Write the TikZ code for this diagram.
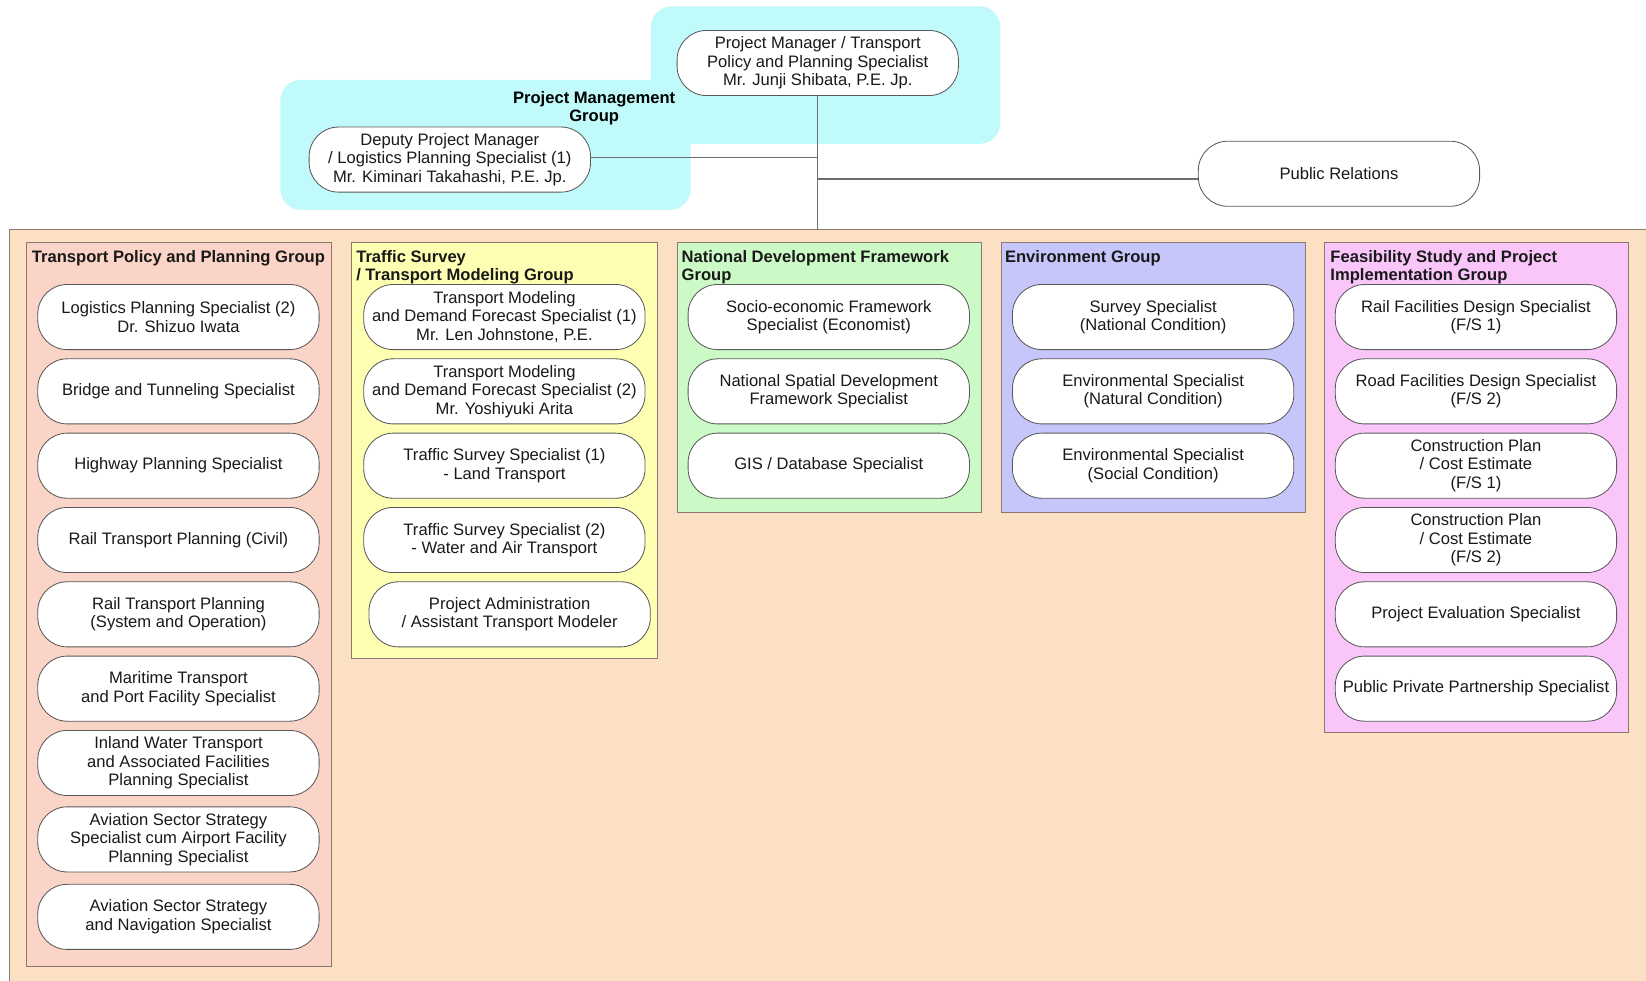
\documentclass[tikz,border=0pt]{standalone}
\usepackage{fontspec}
\setmainfont{Liberation Sans}
\usetikzlibrary{positioning}
\definecolor{pmcyan}{RGB}{192,250,250}
\definecolor{bandpeach}{RGB}{252,224,196}
\definecolor{grpsalmon}{RGB}{250,212,198}
\definecolor{grpyellow}{RGB}{255,255,180}
\definecolor{grpgreen}{RGB}{204,250,198}
\definecolor{grpblue}{RGB}{198,198,250}
\definecolor{grppink}{RGB}{250,198,250}
\definecolor{framegray}{RGB}{140,120,112}
\definecolor{linegray}{RGB}{110,110,110}

\begin{document}
\begin{tikzpicture}[x=0.5pt, y=-0.5pt,
    box/.style={draw=black!65, fill=white, rounded corners=14pt, minimum width=134pt,
                minimum height=31pt, inner sep=1pt, align=center,
                font=\fontsize{7.9}{8.8}\selectfont, text=black!90},
    grp/.style={draw=framegray, line width=0.5pt},
    ttl/.style={anchor=north west, inner sep=0pt, align=left,
                font=\fontsize{7.9}{8.6}\selectfont\bfseries, text=black!90},
    conn/.style={draw=linegray, line width=0.5pt},
    node distance=4pt
]
\useasboundingbox (0,0) rectangle (1568,934);
\clip (0,0) rectangle (1568,934);

% project management group
\fill[pmcyan, rounded corners=10pt] (620,6) rectangle (953,137);
\fill[pmcyan, rounded corners=10pt] (267,76) rectangle (658,200);
\node[box] (pm) at (779,60) {Project Manager / Transport\\Policy and Planning Specialist\\Mr. Junji Shibata, P.E. Jp.};
\node[box] (deputy) at (428.5,152) {Deputy Project Manager\\/ Logistics Planning Specialist (1)\\Mr. Kiminari Takahashi, P.E. Jp.};
\node[align=center, inner sep=0pt, font=\fontsize{7.9}{8.6}\selectfont\bfseries] (pmlbl) at (566,103) {Project Management\\Group};
\node[box] (pr) at (1275.5,165.5) {Public Relations};

% expert team
\draw[grp, fill=bandpeach] (9,219) rectangle (1600,960);
\coordinate (bandtop) at (778,219);

\draw[grp, fill=grpsalmon] (25,231) rectangle (316,921);
\draw[grp, fill=grpyellow] (335,231) rectangle (626,627);
\draw[grp, fill=grpgreen] (645,231) rectangle (935,488);
\draw[grp, fill=grpblue] (954,231) rectangle (1244,488);
\draw[grp, fill=grppink] (1262,231) rectangle (1551,698);

\node[ttl] (tptitle) at (30,238) {Transport Policy and Planning Group};
\node[ttl] (tstitle) at (339,238) {Traffic Survey\\/ Transport Modeling Group};
\node[ttl] (ndtitle) at (649,238) {National Development Framework\\Group};
\node[ttl] (envtitle) at (957,238) {Environment Group};
\node[ttl] (fstitle) at (1267,238) {Feasibility Study and Project\\Implementation Group};

% transport policy and planning
\node[box] (tp1) at (170,302) {Logistics Planning Specialist (2)\\Dr. Shizuo Iwata};
\node[box, below=of tp1] (tp2) {Bridge and Tunneling Specialist};
\node[box, below=of tp2] (tp3) {Highway Planning Specialist};
\node[box, below=of tp3] (tp4) {Rail Transport Planning (Civil)};
\node[box, below=of tp4] (tp5) {Rail Transport Planning\\(System and Operation)};
\node[box, below=of tp5] (tp6) {Maritime Transport\\and Port Facility Specialist};
\node[box, below=of tp6] (tp7) {Inland Water Transport\\and Associated Facilities\\Planning Specialist};
\node[box, below=5pt of tp7] (tp8) {Aviation Sector Strategy\\Specialist cum Airport Facility\\Planning Specialist};
\node[box, below=5.5pt of tp8] (tp9) {Aviation Sector Strategy\\and Navigation Specialist};

% traffic survey / transport modeling
\node[box] (ts1) at (480.5,302) {Transport Modeling\\and Demand Forecast Specialist (1)\\Mr. Len Johnstone, P.E.};
\node[box, below=of ts1] (ts2) {Transport Modeling\\and Demand Forecast Specialist (2)\\Mr. Yoshiyuki Arita};
\node[box, below=of ts2] (ts3) {Traffic Survey Specialist (1)\\- Land Transport};
\node[box, below=of ts3] (ts4) {Traffic Survey Specialist (2)\\- Water and Air Transport};
\node[box, below=of ts4, xshift=2.5pt] (ts5) {Project Administration\\/ Assistant Transport Modeler};

% national development framework
\node[box] (nd1) at (789.5,302) {Socio-economic Framework\\Specialist (Economist)};
\node[box, below=of nd1] (nd2) {National Spatial Development\\Framework Specialist};
\node[box, below=of nd2] (nd3) {GIS / Database Specialist};

% environment
\node[box] (env1) at (1098.5,302) {Survey Specialist\\(National Condition)};
\node[box, below=of env1] (env2) {Environmental Specialist\\(Natural Condition)};
\node[box, below=of env2] (env3) {Environmental Specialist\\(Social Condition)};

% feasibility study and project implementation
\node[box] (fs1) at (1406,302) {Rail Facilities Design Specialist\\(F/S 1)};
\node[box, below=of fs1] (fs2) {Road Facilities Design Specialist\\(F/S 2)};
\node[box, below=of fs2] (fs3) {Construction Plan\\/ Cost Estimate\\(F/S 1)};
\node[box, below=of fs3] (fs4) {Construction Plan\\/ Cost Estimate\\(F/S 2)};
\node[box, below=of fs4] (fs5) {Project Evaluation Specialist};
\node[box, below=of fs5] (fs6) {Public Private Partnership Specialist};

% connectors
\draw[conn] (pm.south) -- (pm.south |- bandtop);
\draw[conn] ([yshift=1pt]deputy.east) -- ([yshift=1pt]deputy.east -| pm.south);
\draw[conn] ([yshift=-2.5pt]pr.west) -- ([yshift=-2.5pt]pr.west -| pm.south);
\end{tikzpicture}
\end{document}
